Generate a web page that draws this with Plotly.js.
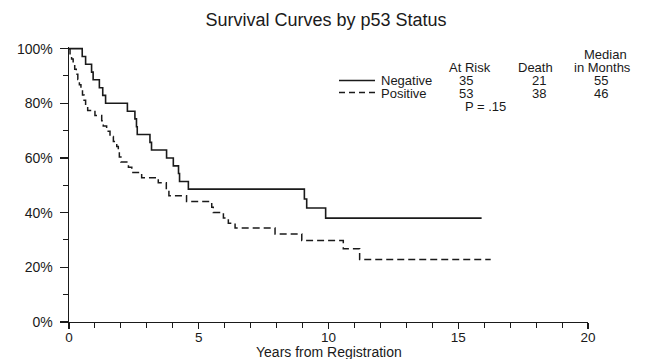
<!DOCTYPE html>
<html>
<head>
<meta charset="utf-8">
<script src="https://cdn.plot.ly/plotly-3.0.1.min.js"></script>
<style>
html,body{margin:0;padding:0;background:#fff;}
#chart{width:648px;height:359px;}
</style>
</head>
<body>
<div id="chart"></div>
<script>
// ---- data ----
var negTime = [0, 0.51, 0.64, 0.87, 0.93, 1.17, 1.30, 1.41, 2.25, 2.54, 2.60, 2.63, 3.12, 3.18, 3.76, 4.02, 4.22, 4.26, 4.60, 9.07, 9.16, 9.89, 15.9];
var negSurv = [100, 97.1, 94.3, 91.4, 88.6, 85.7, 82.9, 80.0, 77.1, 74.3, 71.4, 68.6, 65.7, 62.9, 60.0, 57.1, 54.3, 51.4, 48.6, 45.0, 41.7, 38.0, 38.0];

var posTime = [0, 0.04, 0.10, 0.16, 0.22, 0.28, 0.34, 0.40, 0.46, 0.52, 0.58, 0.64, 0.72, 1.00, 1.26, 1.32, 1.45, 1.58, 1.71, 1.84, 1.90, 1.94, 2.00, 2.29, 2.42, 2.80, 3.44, 3.75, 3.85, 4.53, 5.50, 5.56, 5.95, 6.14, 6.40, 7.94, 8.97, 10.57, 11.20, 16.25];
var posSurv = [100, 98.1, 96.2, 94.3, 92.5, 90.6, 88.7, 86.8, 84.9, 83.0, 81.1, 79.2, 77.4, 75.5, 73.6, 71.7, 69.8, 67.9, 66.0, 64.2, 62.3, 60.4, 58.5, 56.6, 54.7, 52.8, 50.9, 48.1, 46.2, 44.1, 42.0, 40.1, 38.0, 36.1, 34.4, 32.2, 29.8, 26.8, 22.9, 22.9];

var groupNames = ["Negative", "Positive"];
var atRisk = [35, 53];
var deaths = [21, 38];
var medianMonths = [55, 46];
var pValueText = "P = .15";

var xTickVals = [0, 5, 10, 15, 20];
var xTickText = ["0", "5", "10", "15", "20"];
var yTickVals = [0, 20, 40, 60, 80, 100];
var yTickText = ["0%", "20%", "40%", "60%", "80%", "100%"];

// ---- chart ----
var FONT = "Liberation Sans, Arial, Helvetica, sans-serif";
var INK = "#1a1a1a";
var FS = 14;
var LFS = 13;

var traces = [
  {x: negTime, y: negSurv, mode: "lines", line: {shape: "hv", color: INK, width: 1.6}, name: groupNames[0], hoverinfo: "skip"},
  {x: posTime, y: posSurv, mode: "lines", line: {shape: "hv", color: INK, width: 1.5, dash: "7px,4px"}, name: groupNames[1], hoverinfo: "skip"}
];

// layout helpers (pixel -> paper)
var L = 69, R = 588, T = 47, B = 322;
function px(x){ return (x - L) / (R - L); }
function py(y){ return (B - y) / (B - T); }

function txt(s, x, y, opts){
  var a = {text: s, xref: "paper", yref: "paper", x: px(x), y: py(y), xanchor: "center", yanchor: "middle",
           showarrow: false, font: {family: FONT, size: LFS, color: INK}};
  if (opts) for (var k in opts) a[k] = opts[k];
  return a;
}

var annotations = [
  txt("Median", 605, 54),
  txt("At Risk", 470, 67),
  txt("Death", 535, 67),
  txt("in Months", 602, 67),
  txt(groupNames[0], 379, 80, {xanchor: "left"}),
  txt(groupNames[1], 379, 93, {xanchor: "left"}),
  txt(String(atRisk[0]), 466, 80),
  txt(String(deaths[0]), 539, 80),
  txt(String(medianMonths[0]), 601, 80),
  txt(String(atRisk[1]), 466, 93),
  txt(String(deaths[1]), 539, 93),
  txt(String(medianMonths[1]), 601, 93),
  txt(pValueText, 485, 106),
  txt("Years from Registration", 328.5, 352, {font: {family: FONT, size: FS, color: INK}})
];

var shapes = [
  {type: "line", xref: "paper", yref: "paper", x0: px(339), x1: px(375), y0: py(80.5), y1: py(80.5), line: {color: INK, width: 1.5}},
  {type: "line", xref: "paper", yref: "paper", x0: px(339), x1: px(375), y0: py(92.5), y1: py(92.5), line: {color: INK, width: 1.5, dash: "6px,4px"}}
];

var layout = {
  width: 648, height: 359,
  margin: {l: L, r: 648 - R, t: T, b: 359 - B, pad: 0},
  paper_bgcolor: "#fff", plot_bgcolor: "#fff",
  showlegend: false,
  font: {family: FONT, size: FS, color: INK},
  title: {text: "Survival Curves by p53 Status", x: 326/648, xref: "container", xanchor: "center", y: 1 - 20/359, yref: "container", yanchor: "middle",
          font: {family: FONT, size: 18, color: INK}},
  xaxis: {range: [0, 20], showgrid: false, zeroline: false, showline: true, linecolor: INK, linewidth: 1.4,
          ticks: "outside", ticklen: 6, tickwidth: 1.3, tickcolor: INK, ticklabelstandoff: -4,
          tickvals: xTickVals, ticktext: xTickText, tickfont: {family: FONT, size: 13.5, color: INK},
          minor: {dtick: 1, tick0: 0, ticks: "outside", ticklen: 5, tickwidth: 1, tickcolor: INK, showgrid: false}},
  yaxis: {range: [0, 100.6], showgrid: false, zeroline: false, showline: true, linecolor: INK, linewidth: 1.4,
          ticks: "outside", ticklen: 8, tickwidth: 1.3, tickcolor: INK, ticklabelstandoff: 4,
          tickvals: yTickVals, ticktext: yTickText, tickfont: {family: FONT, size: FS, color: INK},
          minor: {dtick: 10, tick0: 0, ticks: "outside", ticklen: 5, tickwidth: 1, tickcolor: INK, showgrid: false}},
  annotations: annotations,
  shapes: shapes
};

Plotly.newPlot("chart", traces, layout, {staticPlot: true, displayModeBar: false});
</script>
</body>
</html>
